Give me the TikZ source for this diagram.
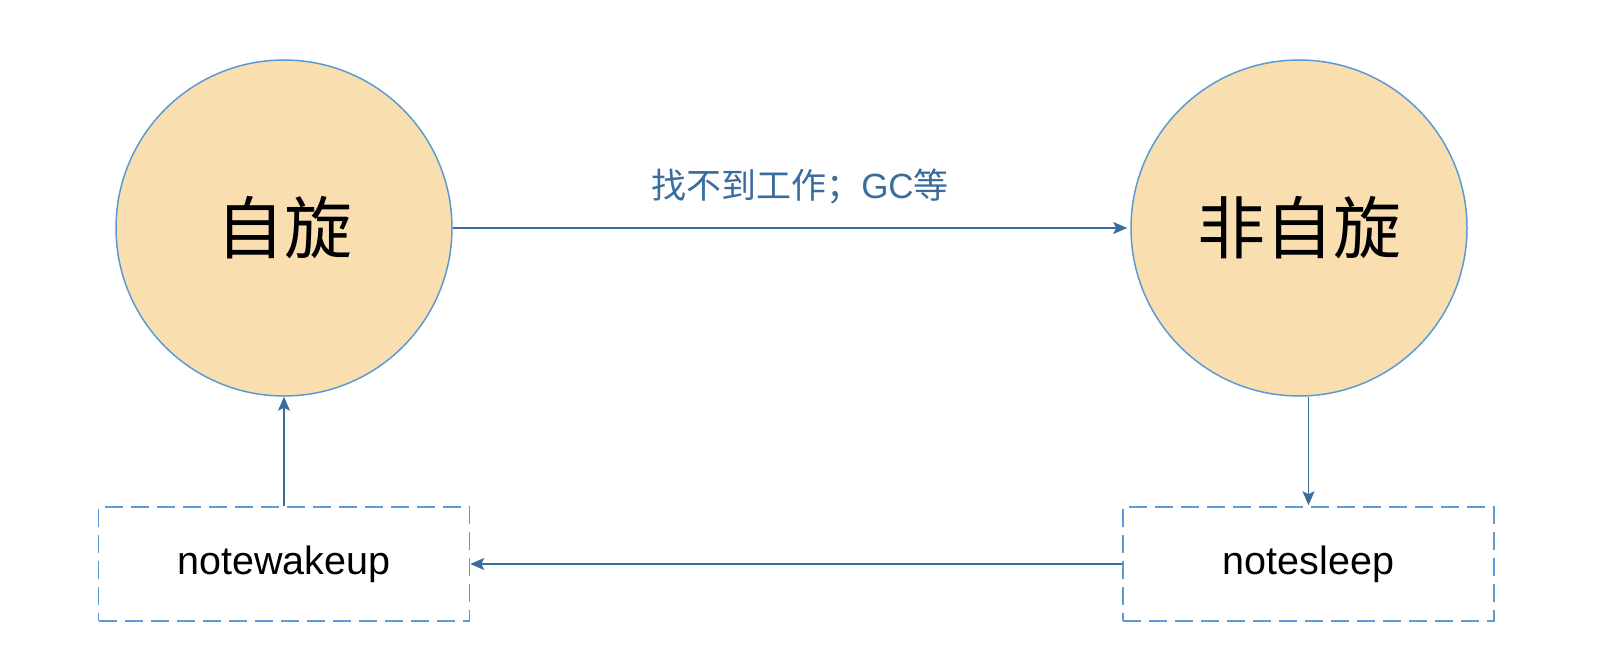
\documentclass[tikz,border=0pt]{standalone}
\usepackage{fontspec}
\setmainfont{Liberation Sans}
\newfontfamily\cjk{Noto Sans CJK SC}
\usetikzlibrary{arrows.meta}
\definecolor{circfill}{HTML}{F9DEB0}
\definecolor{circline}{HTML}{5B9BD5}
\definecolor{arrcol}{HTML}{3A6D9E}
\definecolor{boxline}{HTML}{5B9BD5}
\tikzset{
  state/.style={circle, minimum size=336pt, inner sep=0pt, fill=circfill, draw=circline, line width=1.5pt, font=\cjk\fontsize{68}{70}\selectfont},
  notebox/.style={rectangle, minimum width=371pt, minimum height=114pt, inner sep=0pt, draw=boxline, line width=1.5pt, dash pattern=on 18pt off 8pt, font=\fontsize{39.5}{41}\selectfont},
  arr/.style={draw=arrcol, line width=1.7pt, -{Stealth[length=14pt, width=12pt, inset=3pt]}},
  lbl/.style={text=arrcol, font=\cjk\fontsize{35}{38}\selectfont, inner sep=0pt}
}
\begin{document}
\begin{tikzpicture}[x=1pt, y=-1pt]
\useasboundingbox (0,0) rectangle (1618,672);
\node[state] (L) at (284,228) {自旋};
\node[state] (R) at (1299,228) {非自旋};
\node[notebox] (wake) at (284,564) {notewakeup};
\node[notebox] (sleep) at (1308.5,564) {notesleep};
\draw[arr, shorten >=3pt] (L.east) -- (R.west);
\node[lbl] (lab) at (800,187) {找不到工作；{\rmfamily GC}等};
\draw[arr, shorten >=1pt] (R.south -| sleep.north) -- (sleep.north);
\draw[arr] (sleep.west) -- (wake.east);
\draw[arr] (wake.north) -- (L.south);
\end{tikzpicture}
\end{document}
